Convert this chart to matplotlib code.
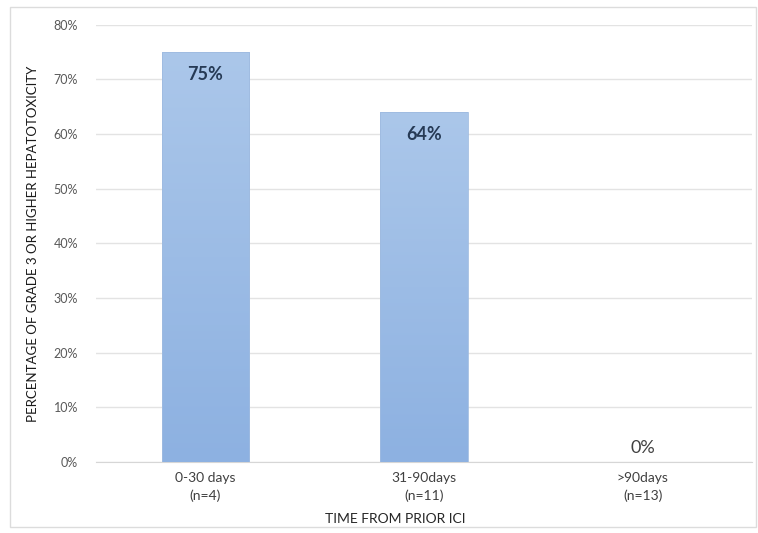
import numpy as np
import matplotlib
matplotlib.use("Agg")
import matplotlib.pyplot as plt
from matplotlib.patches import Rectangle
from matplotlib.colors import LinearSegmentedColormap
from matplotlib.ticker import FuncFormatter

categories = ["0-30 days\n(n=4)", "31-90days\n(n=11)", ">90days\n(n=13)"]
values = [75, 64, 0]
value_labels = ["75%", "64%", "0%"]
yticks = [0, 10, 20, 30, 40, 50, 60, 70, 80]

plt.rcParams['font.family'] = ['Lato', 'DejaVu Sans']

fig = plt.figure(figsize=(7.58, 5.33), dpi=100)
ax = fig.add_axes([0.1266, 0.1332, 0.8654, 0.8202])

x = np.arange(len(categories))
width = 0.40
bars = ax.bar(x, values, width=width, color='none', edgecolor='none', zorder=3)

# gradient fill, lighter at top
cmap = LinearSegmentedColormap.from_list('bargrad', ['#8db1e1', '#abc7ea'])
grad = np.linspace(0, 1, 256).reshape(-1, 1)
for b in bars:
    h = b.get_height()
    if h <= 0:
        continue
    x0 = b.get_x()
    im = ax.imshow(grad, cmap=cmap, origin='lower', aspect='auto',
                   extent=[x0, x0 + b.get_width(), 0, h], zorder=3)
    rect = Rectangle((x0, 0), b.get_width(), h, transform=ax.transData,
                     facecolor='none', edgecolor='#9fbbe0', lw=0.6, zorder=4)
    ax.add_patch(rect)
    im.set_clip_path(rect)

for i, (v, lab) in enumerate(zip(values, value_labels)):
    if v > 0:
        ax.text(i, v - 4, lab, ha='center', va='center', fontsize=13,
                fontweight='bold', color='#263a55', zorder=5)
    else:
        ax.text(i, v + 2.6, lab, ha='center', va='center', fontsize=13,
                color='#404040', zorder=5)

ax.set_xlim(-0.5, 2.5)
ax.set_ylim(0, 80)
ax.set_yticks(yticks)
ax.yaxis.set_major_formatter(FuncFormatter(lambda v, p: '%d%%' % v))
ax.set_xticks(x)
ax.set_xticklabels(categories, fontsize=10, color='#404040', linespacing=1.55)
ax.tick_params(axis='y', length=0, pad=13, labelsize=9, labelcolor='#595959')
ax.tick_params(axis='x', length=0, pad=7)

ax.grid(axis='y', color='#e3e3e3', lw=1, zorder=0)
ax.set_axisbelow(True)
for s in ['top', 'right', 'left']:
    ax.spines[s].set_visible(False)
ax.spines['bottom'].set_color('#d6d6d6')

ax.set_ylabel('PERCENTAGE OF GRADE 3 OR HIGHER HEPATOTOXICITY', fontsize=9.5,
              color='#1a1a1a')
ax.yaxis.set_label_coords(-0.087, 0.5)
ax.set_xlabel('TIME FROM PRIOR ICI', fontsize=10, color='#262626')
ax.xaxis.set_label_coords(0.457, -0.116)

# thin frame around the chart
fig.patches.append(Rectangle((10 / 758, 6 / 533), 746 / 758, 520 / 533,
                             transform=fig.transFigure, fill=False,
                             edgecolor='#dcdcdc', lw=1))

fig.savefig('out.png', dpi=100)
